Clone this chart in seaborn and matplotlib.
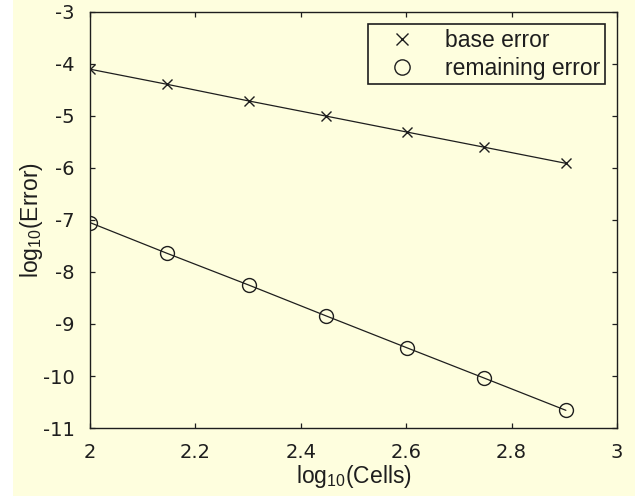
import matplotlib
matplotlib.use("Agg")
import matplotlib.pyplot as plt
import seaborn as sns
import pandas as pd
from matplotlib.lines import Line2D
from matplotlib.patches import Rectangle

log_cells = [2.0, 2.146, 2.301, 2.447, 2.602, 2.748, 2.903]
base_error = [-4.10, -4.39, -4.71, -5.00, -5.31, -5.60, -5.91]
remaining_error = [-7.05, -7.64, -8.25, -8.84, -9.46, -10.04, -10.66]
x_ticks = [2, 2.2, 2.4, 2.6, 2.8, 3]
x_tick_labels = ['2', '2.2', '2.4', '2.6', '2.8', '3']
y_ticks = [-3, -4, -5, -6, -7, -8, -9, -10, -11]
series_labels = ['base error', 'remaining error']

sns.set_theme(style="ticks")
plt.rcParams['font.family'] = ['Liberation Sans', 'DejaVu Sans']
plt.rcParams['mathtext.fontset'] = 'custom'
plt.rcParams['mathtext.rm'] = 'Liberation Sans'

bg = '#fefede'
ink = '#1e1e1e'
fig = plt.figure(figsize=(6.35, 4.97), dpi=100, facecolor='white')
fig.patches.append(Rectangle((13/635, 1/497), 1 - 13/635, 1, transform=fig.transFigure,
                             facecolor=bg, edgecolor='none', zorder=-10))
ax = fig.add_axes([90/635, 1 - 428/497, (617 - 90)/635, (428 - 12)/497])
ax.set_facecolor(bg)

df = pd.DataFrame({'x': log_cells, 'base': base_error, 'rem': remaining_error})
sns.lineplot(data=df, x='x', y='base', ax=ax, color=ink, lw=0.9,
             marker='x', markersize=7.5, mew=1.0, mec=ink, legend=False)
sns.lineplot(data=df, x='x', y='rem', ax=ax, color=ink, lw=0.9,
             marker='o', markersize=10, mfc='none', mew=1.0, mec=ink, legend=False)

ax.set_xlim(2, 3)
ax.set_ylim(-11, -3)
ax.set_xticks(x_ticks)
ax.set_xticklabels(x_tick_labels, family=['DejaVu Sans'])
ax.set_yticks(y_ticks)
ax.set_yticklabels([str(v) for v in y_ticks], family=['DejaVu Sans'])
ax.tick_params(direction='in', length=3.6, width=0.9, top=True, right=True,
               labelsize=14, colors=ink)
ax.tick_params(axis='x', pad=10.5)
ax.tick_params(axis='y', pad=11)
for s in ax.spines.values():
    s.set_color(ink)
    s.set_linewidth(1.0)

ax.set_xlabel(r'log$_{\mathregular{10}}$(Cells)', fontsize=16.5, color=ink, labelpad=1)
ax.set_ylabel(r'log$_{\mathregular{10}}$(Error)', fontsize=16.5, color=ink)
ax.yaxis.set_label_coords(-0.085, 0.5)

handles = [Line2D([], [], ls='none', marker='x', ms=8, mew=1.0, color=ink),
           Line2D([], [], ls='none', marker='o', ms=11, mfc='none', mew=1.0, color=ink)]
leg = ax.legend(handles, series_labels, loc='upper right',
                bbox_to_anchor=(605/635, 1 - 24/497), bbox_transform=fig.transFigure,
                fontsize=16.5, frameon=True, fancybox=False, framealpha=1,
                borderpad=0.2, handletextpad=0.6, labelspacing=0.22, handlelength=2.57,
                borderaxespad=0)
for t in leg.get_texts():
    t.set_color(ink)
leg.get_frame().set_edgecolor(ink)
leg.get_frame().set_facecolor(bg)
leg.get_frame().set_linewidth(1.2)

fig.savefig('out.png', dpi=100, facecolor='white')
